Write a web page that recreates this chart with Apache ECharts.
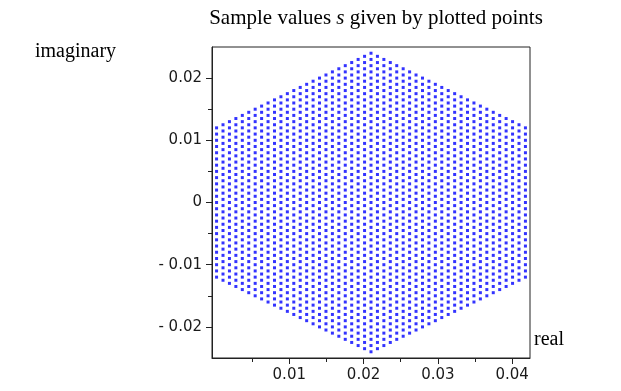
<!DOCTYPE html>
<html>
<head>
<meta charset="utf-8">
<script src="https://cdn.jsdelivr.net/npm/echarts@6/dist/echarts.min.js"></script>
<style>
html,body{margin:0;padding:0;background:#fff;}
#c{width:621px;height:391px;}
</style>
</head>
<body>
<div id="c"></div>
<script>
// Column x positions (real part) of the plotted lattice points
const colX = [0.000215,0.001081,0.001947,0.002813,0.003679,0.004545,0.005411,0.006277,0.007144,0.008010,
0.008876,0.009742,0.010608,0.011474,0.012340,0.013206,0.014072,0.014938,0.015804,0.016670,
0.017536,0.018402,0.019268,0.020134,0.021000,0.021866,0.022732,0.023598,0.024464,0.025330,
0.026196,0.027062,0.027928,0.028794,0.029660,0.030526,0.031392,0.032258,0.033124,0.033990,
0.034856,0.035723,0.036589,0.037455,0.038321,0.039187,0.040053,0.040919,0.041785];
// Number of points in each column (centred on imaginary = 0)
const colCount = [25,26,27,28,29,30,31,32,33,34,35,36,37,38,39,40,41,42,43,44,45,46,47,48,49,
48,47,46,45,44,43,42,41,40,39,38,37,36,35,34,33,32,31,30,29,28,27,26,25];
// Vertical spacing of the points within a column
const ySpacing = 0.001;

const xMajorTicks = [0.01,0.02,0.03,0.04];
const xMajorLabels = ['0.01','0.02','0.03','0.04'];
const xMinorTicks = [0.005,0.015,0.025,0.035];
const yMajorTicks = [-0.02,-0.01,0,0.01,0.02];
const yMajorLabels = ['- 0.02','- 0.01','0','0.01','0.02'];
const yMinorTicks = [-0.015,-0.005,0.005,0.015];

const pts = [];
for (let i = 0; i < colX.length; i++) {
  const n = colCount[i];
  for (let j = 0; j < n; j++) {
    pts.push([colX[i], +((j - (n - 1) / 2) * ySpacing).toFixed(6)]);
  }
}

const XMIN = -0.0004, XMAX = 0.0424, YMIN = -0.025, YMAX = 0.025;
const labelFont = {fontFamily: 'DejaVu Sans', fontSize: 15, color: '#1a1a1a'};
const lineStyle = {color: '#222', width: 1};
const GL = 212, GW = 318;

const chart = echarts.init(document.getElementById('c'), null, {renderer: 'canvas'});
chart.setOption({
  animation: false,
  backgroundColor: '#fff',
  title: {
    text: '{a|Sample values }{i|s}{a| given by plotted points}',
    left: GL + GW / 2, textAlign: 'center', top: 3,
    textStyle: {
      fontWeight: 'normal',
      rich: {
        a: {fontFamily: 'Liberation Serif', fontSize: 21, fontWeight: 'normal', color: '#000'},
        i: {fontFamily: 'Liberation Serif', fontSize: 21, fontWeight: 'normal', fontStyle: 'italic', color: '#000'}
      }
    }
  },
  graphic: [
    {type: 'text', left: 35, top: 42, style: {text: 'imaginary', font: '20px "Liberation Serif"', fill: '#000'}},
    {type: 'text', left: 534, top: 330, style: {text: 'real', font: '20px "Liberation Serif"', fill: '#000'}}
  ],
  grid: {left: GL, top: 47, width: GW, height: 311, show: true, borderColor: '#222', borderWidth: 1, backgroundColor: 'transparent'},
  xAxis: [
    {type: 'value', min: XMIN, max: XMAX, position: 'bottom', offset: 0,
     axisLine: {show: true, onZero: false, lineStyle: lineStyle},
     axisTick: {show: true, length: 6, customValues: xMajorTicks, lineStyle: lineStyle},
     axisLabel: {show: true, customValues: xMajorTicks, margin: 10, formatter: (v) => {
        const k = xMajorTicks.findIndex(t => Math.abs(t - v) < 1e-9); return k >= 0 ? xMajorLabels[k] : ''; }, ...labelFont},
     splitLine: {show: false}},
    {type: 'value', min: XMIN, max: XMAX, position: 'bottom', offset: 0,
     axisLine: {show: false, onZero: false},
     axisTick: {show: true, length: 4, customValues: xMinorTicks, lineStyle: lineStyle},
     axisLabel: {show: false}, splitLine: {show: false}}
  ],
  yAxis: [
    {type: 'value', min: YMIN, max: YMAX, position: 'left', offset: 0,
     axisLine: {show: true, onZero: false, lineStyle: lineStyle},
     axisTick: {show: true, length: 6, customValues: yMajorTicks, lineStyle: lineStyle},
     axisLabel: {show: true, customValues: yMajorTicks, margin: 10, formatter: (v) => {
        const k = yMajorTicks.findIndex(t => Math.abs(t - v) < 1e-9); return k >= 0 ? yMajorLabels[k] : ''; }, ...labelFont},
     splitLine: {show: false}},
    {type: 'value', min: YMIN, max: YMAX, position: 'left', offset: 0,
     axisLine: {show: false, onZero: false},
     axisTick: {show: true, length: 4, customValues: yMinorTicks, lineStyle: lineStyle},
     axisLabel: {show: false}, splitLine: {show: false}}
  ],
  series: [{
    type: 'scatter', xAxisIndex: 0, yAxisIndex: 0,
    symbol: 'rect', symbolSize: 3,
    itemStyle: {color: '#0000ff'},
    data: pts
  }]
});
</script>
</body>
</html>
